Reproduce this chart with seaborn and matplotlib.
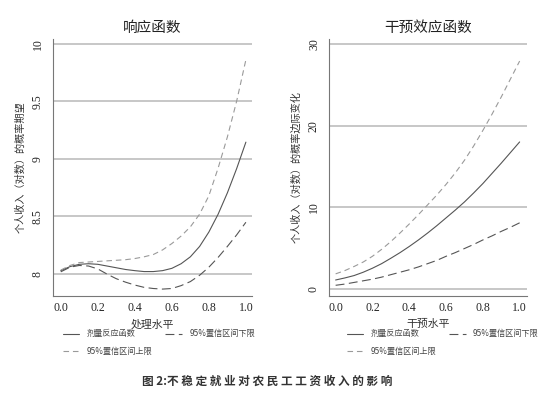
import numpy as np
import pandas as pd
import seaborn as sns
import matplotlib.pyplot as plt

# Valores (paso de 0.05)
nivel = [0.0, 0.05, 0.1, 0.15, 0.2, 0.25, 0.3, 0.35, 0.4, 0.45, 0.5,
         0.55, 0.6, 0.65, 0.7, 0.75, 0.8, 0.85, 0.9, 0.95, 1.0]

# Panel izquierdo: 响应函数
resp_media = [8.03, 8.065, 8.085, 8.09, 8.085, 8.07, 8.055, 8.04, 8.03, 8.022, 8.022,
              8.03, 8.05, 8.09, 8.15, 8.24, 8.365, 8.52, 8.705, 8.915, 9.145]
resp_sup = [8.035, 8.075, 8.1, 8.105, 8.11, 8.115, 8.12, 8.125, 8.135, 8.15, 8.17,
            8.21, 8.265, 8.33, 8.41, 8.52, 8.68, 8.92, 9.19, 9.5, 9.86]
resp_inf = [8.02, 8.06, 8.075, 8.07, 8.045, 8.0, 7.96, 7.93, 7.905, 7.885, 7.875,
            7.87, 7.875, 7.9, 7.935, 7.99, 8.06, 8.145, 8.24, 8.34, 8.45]

# Panel derecho: 干预效应函数
efec_media = [1.1, 1.35, 1.64, 2.05, 2.54, 3.1, 3.76, 4.45, 5.2, 6.0, 6.85,
              7.75, 8.7, 9.65, 10.65, 11.75, 12.9, 14.15, 15.4, 16.7, 18.0]
efec_sup = [1.85, 2.25, 2.75, 3.3, 4.0, 4.85, 5.8, 6.85, 7.95, 9.1, 10.3,
            11.5, 12.8, 14.2, 15.75, 17.5, 19.4, 21.4, 23.5, 25.7, 27.9]
efec_inf = [0.45, 0.6, 0.8, 1.0, 1.2, 1.45, 1.75, 2.05, 2.35, 2.7, 3.1,
            3.5, 4.0, 4.45, 4.95, 5.45, 6.0, 6.5, 7.05, 7.55, 8.1]

etiquetas = ["剂量反应函数", "95%置信区间上限", "95%置信区间下限"]

sns.set_style("white")
plt.rcParams['font.family'] = ['Noto Sans CJK SC', 'DejaVu Sans']

fig = plt.figure(figsize=(5.44, 3.97), dpi=100)
ax1 = fig.add_axes([53 / 544, 1 - 296 / 397, 199 / 544, 257 / 397])
ax2 = fig.add_axes([329 / 544, 1 - 296 / 397, 198 / 544, 257 / 397])

oscuro = "#555555"
claro = "#9a9a9a"
rejilla = "#b8b8b8"


def panel(ax, media, sup, inf, titulo, xlabel, ylabel, yticks, ylim, xlim, leg_x):
    df = pd.DataFrame({"x": nivel, "media": media, "sup": sup, "inf": inf})
    for t in yticks:
        ax.axhline(t, color=rejilla, lw=1.1, zorder=0)
    sns.lineplot(data=df, x="x", y="media", ax=ax, color=oscuro, lw=0.8,
                 label=etiquetas[0])
    sns.lineplot(data=df, x="x", y="sup", ax=ax, color=claro, lw=0.8,
                 linestyle=(0, (5, 3.5)), label=etiquetas[1])
    sns.lineplot(data=df, x="x", y="inf", ax=ax, color=oscuro, lw=0.8,
                 linestyle=(0, (8, 4)), label=etiquetas[2])
    ax.set_xlim(*xlim)
    ax.set_ylim(*ylim)
    ax.set_xticks([0, 0.2, 0.4, 0.6, 0.8, 1.0])
    ax.set_xticklabels(["0.0", "0.2", "0.4", "0.6", "0.8", "1.0"],
                       family="Liberation Serif", fontsize=8.5)
    ax.set_yticks(yticks)
    ax.set_yticklabels([f"{t:g}" for t in yticks], family="Liberation Serif",
                       fontsize=8.5, rotation=90, va="center")
    ax.tick_params(axis="both", direction="out", length=3.5, width=0.8,
                   color="#777777", pad=1)
    ax.tick_params(axis="y", pad=3)
    for s in ["top", "right"]:
        ax.spines[s].set_visible(False)
    for s in ["left", "bottom"]:
        ax.spines[s].set_color("#777777")
        ax.spines[s].set_linewidth(0.8)
    ax.set_title(titulo, fontsize=10.5, pad=5, color="#222222")
    ax.set_xlabel(xlabel, fontsize=7.8, labelpad=3.5, color="#333333")
    ax.set_ylabel(ylabel, fontsize=7.3, labelpad=5, color="#333333")
    handles, labels = ax.get_legend_handles_labels()
    ax.legend(handles, labels, ncol=2, frameon=False, fontsize=5.9,
              loc="upper left", bbox_to_anchor=(leg_x, -0.13),
              borderaxespad=0, borderpad=0, handlelength=2.0,
              handletextpad=0.9, columnspacing=1.6, labelspacing=1.0,
              labelcolor="#444444")


panel(ax1, resp_media, resp_sup, resp_inf, "响应函数", "处理水平",
      "个人收入（对数）的概率期望", [8, 8.5, 9, 9.5, 10],
      (7.81, 10.04), (-0.042, 1.033), 0.05)
panel(ax2, efec_media, efec_sup, efec_inf, "干预效应函数", "干预水平",
      "个人收入（对数）的概率边际变化", [0, 10, 20, 30],
      (-0.86, 30.6), (-0.036, 1.04), 0.09)

fig.text(0.491, 1 - 381 / 397, "图 2:不 稳 定 就 业 对 农 民 工 工 资 收 入 的 影 响",
         ha="center", va="center", fontsize=8.4, fontweight="bold", color="#333333")

plt.savefig("out.png", dpi=100)
plt.close()
